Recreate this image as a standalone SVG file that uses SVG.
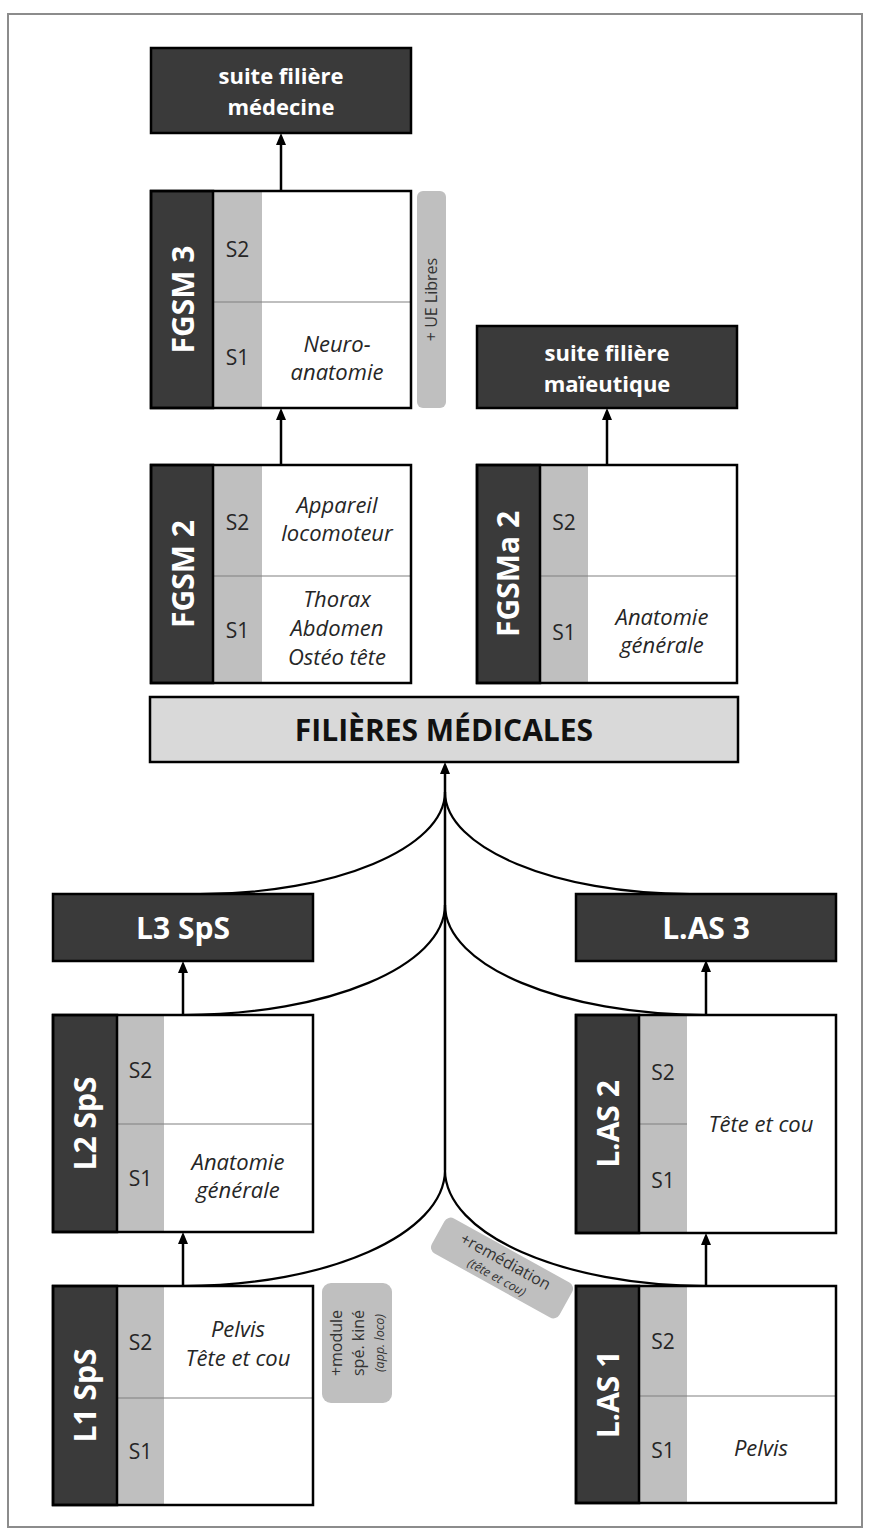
<svg xmlns="http://www.w3.org/2000/svg" width="871" height="1535" viewBox="0 0 871 1535">
<style>
.frame{fill:none;stroke:#8c8c8c;stroke-width:2}
.wb{fill:#fff}
.ol{fill:none;stroke:#000;stroke-width:2.5}
.dk{fill:#3a3a3a;stroke:#000;stroke-width:2.5}
.sem{fill:#bfbfbf}
.div{stroke:#808080;stroke-width:1.2}
.pill{fill:#bfbfbf}
.lt{fill:#d9d9d9;stroke:#000;stroke-width:2.5}
.conn{fill:none;stroke:#000;stroke-width:2.2}
.arr{fill:none;stroke:#000;stroke-width:2.5}
text{font-family:"Open Sans","Liberation Sans",sans-serif;text-anchor:middle}
.wt{fill:#fff;font-weight:bold;font-size:22px}
.vt{fill:#fff;font-weight:bold;font-size:30px}
.ht{fill:#fff;font-weight:bold;font-size:30px}
.s{fill:#262626;font-size:21px}
.it{fill:#262626;font-size:22px;font-style:italic}
.big{fill:#111;font-weight:bold;font-size:30px}
.pt{fill:#333;font-size:16px}
.pi{fill:#333;font-size:12.5px;font-style:italic}
</style>
<defs>
<marker id="ah" markerUnits="userSpaceOnUse" viewBox="0 0 12 10" refX="2" refY="5" markerWidth="12" markerHeight="10" orient="auto">
<path d="M0,0 L12,5 L0,10 Z" fill="#000"/>
</marker>
</defs>
<rect class="frame" x="8" y="14" width="854" height="1513"/>

<g id="suite-medecine">
<rect class="dk" x="151" y="48" width="260" height="85"/>
<text class="wt" x="281" y="84">suite filière</text>
<text class="wt" x="281" y="115">médecine</text>
</g>

<g id="fgsm3">
<rect class="wb" x="151" y="191" width="260" height="217"/>
<rect class="sem" x="213" y="191" width="49" height="217"/>
<line class="div" x1="213" y1="302" x2="411" y2="302"/>
<rect class="dk" x="151" y="191" width="62" height="217"/>
<rect class="ol" x="151" y="191" width="260" height="217"/>
<text class="vt" transform="translate(194,299.5) rotate(-90)">FGSM 3</text>
<text class="s" x="237.5" y="257">S2</text>
<text class="s" x="237.5" y="365">S1</text>
<text class="it" x="337" y="352">Neuro-</text>
<text class="it" x="337" y="380">anatomie</text>
</g>

<g id="ue-libres">
<rect class="pill" x="417" y="191" width="29" height="217" rx="6"/>
<text class="pt" transform="translate(437,299.5) rotate(-90)">+ UE Libres</text>
</g>

<g id="suite-maieutique">
<rect class="dk" x="477" y="326" width="260" height="82"/>
<text class="wt" x="607" y="361">suite filière</text>
<text class="wt" x="607" y="392">maïeutique</text>
</g>

<g id="fgsm2">
<rect class="wb" x="151" y="465" width="260" height="218"/>
<rect class="sem" x="213" y="465" width="49" height="218"/>
<line class="div" x1="213" y1="576" x2="411" y2="576"/>
<rect class="dk" x="151" y="465" width="62" height="218"/>
<rect class="ol" x="151" y="465" width="260" height="218"/>
<text class="vt" transform="translate(194,574) rotate(-90)">FGSM 2</text>
<text class="s" x="237.5" y="530">S2</text>
<text class="s" x="237.5" y="638">S1</text>
<text class="it" x="337" y="513">Appareil</text>
<text class="it" x="337" y="541">locomoteur</text>
<text class="it" x="337" y="607">Thorax</text>
<text class="it" x="337" y="636">Abdomen</text>
<text class="it" x="337" y="665">Ostéo tête</text>
</g>

<g id="fgsma2">
<rect class="wb" x="477" y="465" width="260" height="218"/>
<rect class="sem" x="540" y="465" width="48" height="218"/>
<line class="div" x1="540" y1="576" x2="737" y2="576"/>
<rect class="dk" x="477" y="465" width="63" height="218"/>
<rect class="ol" x="477" y="465" width="260" height="218"/>
<text class="vt" transform="translate(519,574) rotate(-90)">FGSMa 2</text>
<text class="s" x="564" y="530">S2</text>
<text class="s" x="564" y="640">S1</text>
<text class="it" x="662" y="625">Anatomie</text>
<text class="it" x="662" y="653">générale</text>
</g>

<g id="filieres">
<rect class="lt" x="150" y="697" width="588" height="65"/>
<text class="big" x="444" y="741">FILIÈRES MÉDICALES</text>
</g>

<g id="l3sps">
<rect class="dk" x="53" y="894" width="260" height="67"/>
<text class="ht" x="183" y="939">L3 SpS</text>
</g>

<g id="las3">
<rect class="dk" x="576" y="894" width="260" height="67"/>
<text class="ht" x="706" y="939">L.AS 3</text>
</g>

<g id="l2sps">
<rect class="wb" x="53" y="1015" width="260" height="217"/>
<rect class="sem" x="117" y="1015" width="47" height="217"/>
<line class="div" x1="117" y1="1124" x2="313" y2="1124"/>
<rect class="dk" x="53" y="1015" width="64" height="217"/>
<rect class="ol" x="53" y="1015" width="260" height="217"/>
<text class="vt" transform="translate(96,1123.5) rotate(-90)">L2 SpS</text>
<text class="s" x="140.5" y="1078">S2</text>
<text class="s" x="140.5" y="1186">S1</text>
<text class="it" x="238" y="1170">Anatomie</text>
<text class="it" x="238" y="1198">générale</text>
</g>

<g id="las2">
<rect class="wb" x="576" y="1015" width="260" height="218"/>
<rect class="sem" x="639" y="1015" width="48" height="218"/>
<line class="div" x1="639" y1="1124" x2="687" y2="1124"/>
<rect class="dk" x="576" y="1015" width="63" height="218"/>
<rect class="ol" x="576" y="1015" width="260" height="218"/>
<text class="vt" transform="translate(619,1124) rotate(-90)">L.AS 2</text>
<text class="s" x="663" y="1080">S2</text>
<text class="s" x="663" y="1188">S1</text>
<text class="it" x="761" y="1132">Tête et cou</text>
</g>

<g id="l1sps">
<rect class="wb" x="53" y="1286" width="260" height="219"/>
<rect class="sem" x="117" y="1286" width="47" height="219"/>
<line class="div" x1="117" y1="1398" x2="313" y2="1398"/>
<rect class="dk" x="53" y="1286" width="64" height="219"/>
<rect class="ol" x="53" y="1286" width="260" height="219"/>
<text class="vt" transform="translate(96,1395.5) rotate(-90)">L1 SpS</text>
<text class="s" x="140.5" y="1350">S2</text>
<text class="s" x="140.5" y="1459">S1</text>
<text class="it" x="238" y="1337">Pelvis</text>
<text class="it" x="238" y="1366">Tête et cou</text>
</g>

<g id="module-kine">
<rect class="pill" x="322" y="1283" width="70" height="120" rx="9"/>
<text class="pt" transform="translate(342,1343) rotate(-90)">+module</text>
<text class="pt" transform="translate(364,1343) rotate(-90)">spé. kiné</text>
<text class="pi" transform="translate(384,1343) rotate(-90)">(app. loco)</text>
</g>

<g id="las1">
<rect class="wb" x="576" y="1286" width="260" height="217"/>
<rect class="sem" x="639" y="1286" width="48" height="217"/>
<line class="div" x1="639" y1="1396" x2="836" y2="1396"/>
<rect class="dk" x="576" y="1286" width="63" height="217"/>
<rect class="ol" x="576" y="1286" width="260" height="217"/>
<text class="vt" transform="translate(619,1394.5) rotate(-90)">L.AS 1</text>
<text class="s" x="663" y="1349">S2</text>
<text class="s" x="663" y="1458">S1</text>
<text class="it" x="761" y="1456">Pelvis</text>
</g>

<g id="remediation">
<g transform="translate(502,1268) rotate(29)">
<rect class="pill" x="-73" y="-20" width="146" height="40" rx="7"/>
<text class="pt" x="0" y="-2">+remédiation</text>
<text class="pi" x="0" y="15">(tête et cou)</text>
</g>
</g>

<g id="connectors">
<line class="arr" x1="281" y1="191" x2="281" y2="143" marker-end="url(#ah)"/>
<line class="arr" x1="281" y1="465" x2="281" y2="418" marker-end="url(#ah)"/>
<line class="arr" x1="607" y1="465" x2="607" y2="418" marker-end="url(#ah)"/>
<line class="arr" x1="445" y1="1170" x2="445" y2="772" marker-end="url(#ah)"/>
<line class="arr" x1="183" y1="1015" x2="183" y2="971" marker-end="url(#ah)"/>
<line class="arr" x1="183" y1="1286" x2="183" y2="1242" marker-end="url(#ah)"/>
<line class="arr" x1="706" y1="1015" x2="706" y2="970" marker-end="url(#ah)"/>
<line class="arr" x1="706" y1="1286" x2="706" y2="1243" marker-end="url(#ah)"/>
<path class="conn" d="M445,792 C445,848 335,894 200,894"/>
<path class="conn" d="M445,792 C445,848 555,894 690,894"/>
<path class="conn" d="M445,905 C445,966 328,1015 183,1015"/>
<path class="conn" d="M445,905 C445,966 562,1015 707,1015"/>
<path class="conn" d="M445,1170 C445,1234 328,1286 183,1286"/>
<path class="conn" d="M445,1170 C445,1234 562,1286 707,1286"/>
</g>
</svg>
